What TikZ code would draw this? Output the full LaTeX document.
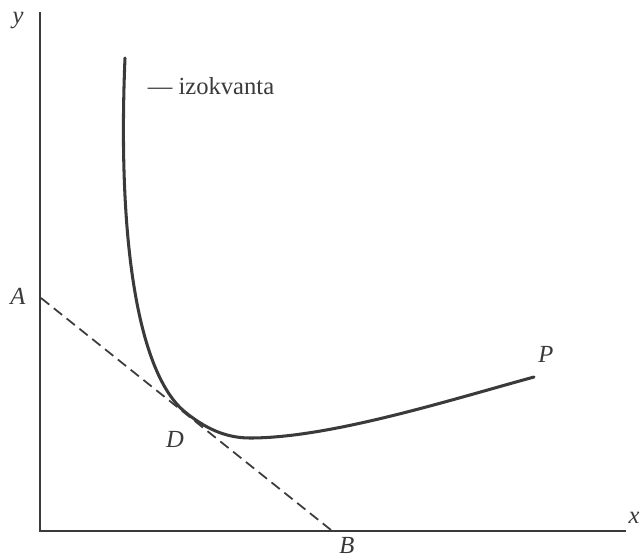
\documentclass[tikz,border=0pt]{standalone}
\usepackage{fontspec}
\setmainfont{Liberation Serif}
\usepackage{tikz}
\usepackage{xcolor}
\usetikzlibrary{positioning,calc}

\definecolor{ink}{HTML}{3A3A3A}

\begin{document}
\begin{tikzpicture}[
          x=0.03cm, y=-0.03cm,
          lbl/.style={font=\itshape\fontsize{21}{25}\selectfont, inner sep=0pt, text=ink},
          note/.style={font=\fontsize{21}{25}\selectfont, inner sep=0pt, text=ink},
          axis/.style={draw=ink, line width=2.2pt},
          iso/.style={draw=ink, line width=2.6pt, line cap=round},
          budget/.style={draw=ink, line width=1.5pt, dash pattern=on 9pt off 5pt}
      ]
        \useasboundingbox (0,0) rectangle (643,558);
        % axes
        \coordinate (O) at (40,531);
        \coordinate (ytop) at (40,12);
        \coordinate (xend) at (626,531);
        \draw[axis] (ytop) -- (O) -- (xend);
        \node[lbl] (ylab) at (18,21) {y};
        \node[lbl] (xlab) at (634,518) {x};
        % budget line
        \coordinate (a) at (41,298);
        \coordinate (b) at (331,530);
        \draw[budget] (a) -- (b);
        \node[lbl] (A) at (18,296) {A};
        \node[lbl] (B) at (347,545) {B};
        % isoquant
        \coordinate (top) at (125,58);
        \coordinate (d) at (185,412);
        \coordinate (m) at (250,438);
        \coordinate (p) at (534,377);
        \draw[iso] (top) .. controls (117,250) and (140,375) .. (d)
                         .. controls (205,428) and (225,438) .. (m)
                         .. controls (330,438) and (450,400) .. (p);
        \node[lbl] (D) at (175,439) {D};
        \node[lbl] (P) at (546,354) {P};
        \node[note] (izo) at (211,86) {--- izokvanta};
\end{tikzpicture}
\end{document}
